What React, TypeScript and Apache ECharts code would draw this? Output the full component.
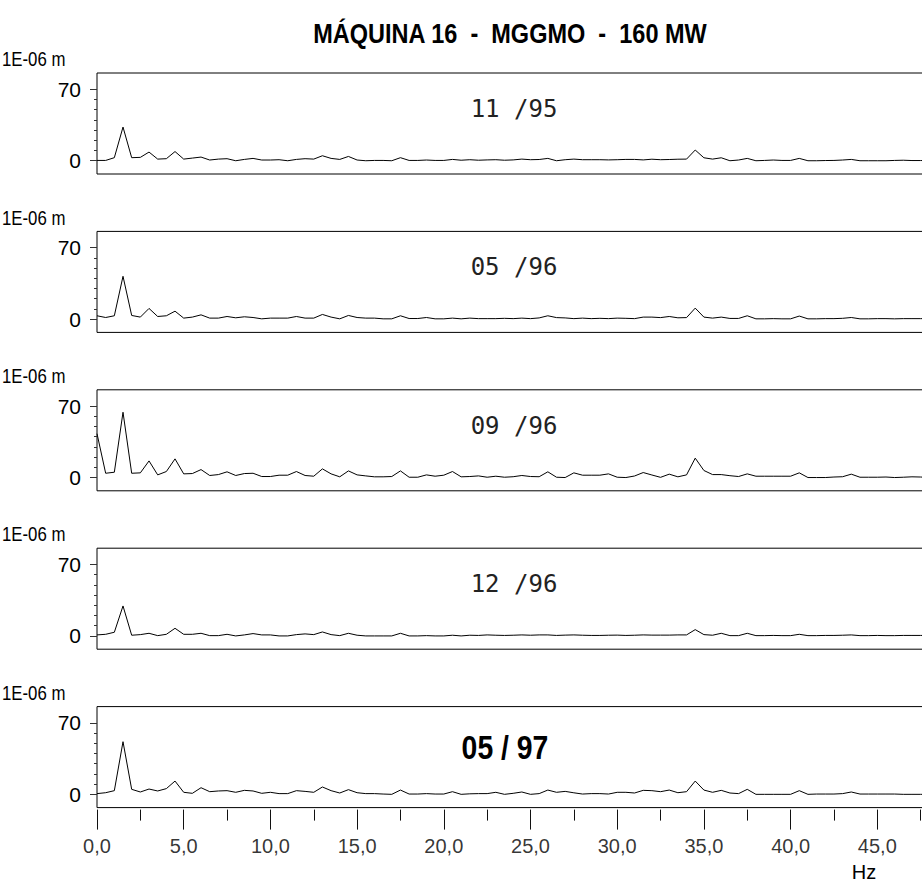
import React, { useEffect, useRef } from "react";
import * as echarts from "echarts";

// Frequencies (Hz) of the spectral lines, 0.5 Hz resolution
const freqs: number[] = [
  0, 0.5, 1, 1.5, 2, 2.5, 3, 3.5, 4, 4.5, 5, 5.5, 6, 6.5, 7, 7.5, 8, 8.5, 9, 9.5,
  10, 10.5, 11, 11.5, 12, 12.5, 13, 13.5, 14, 14.5, 15, 15.5, 16, 16.5, 17, 17.5, 18, 18.5, 19, 19.5,
  20, 20.5, 21, 21.5, 22, 22.5, 23, 23.5, 24, 24.5, 25, 25.5, 26, 26.5, 27, 27.5, 28, 28.5, 29, 29.5,
  30, 30.5, 31, 31.5, 32, 32.5, 33, 33.5, 34, 34.5, 35, 35.5, 36, 36.5, 37, 37.5, 38, 38.5, 39, 39.5,
  40, 40.5, 41, 41.5, 42, 42.5, 43, 43.5, 44, 44.5, 45, 45.5, 46, 46.5, 47, 47.5, 48, 48.5,
];

// Amplitudes (1E-06 m)
const s1195: number[] = [
  0.3, 0.3, 3, 33, 3, 3.3, 8.5, 1.6, 2, 9, 1.6, 2.6, 3.6, 0.7, 1.6, 2, 0, 1.3, 2.3, 0.7,
  0.7, 1, 0, 1.3, 2, 1.6, 4.9, 2.3, 1.3, 4.2, 0.7, 0, 0.3, 0.3, 0, 3, 0.3, 0.3, 0.7, 0.3,
  0.3, 1.3, 0.5, 1.0, 0.5, 0.8, 1.0, 0.5, 0.8, 1.6, 1.0, 1.2, 2.3, 0, 1.0, 1.6, 1.0, 1.0, 1.0, 0.8,
  1.0, 1.3, 1.3, 0.8, 1.5, 1.0, 1.2, 1.5, 1.6, 10.5, 2.9, 1.6, 2.9, 0, 0.7, 2.3, 0, 0.3, 0.7, 0.3,
  0.3, 2.3, 0, 0, 0.2, 0.3, 0.7, 1.3, 0, 0, 0, 0, 0.3, 0.5, 0.2, 0.2, 0.2, 0.2,
];
const s0596: number[] = [
  3.3, 1.6, 3.3, 42, 3.6, 2, 10.5, 2.6, 3.3, 7.8, 1, 2, 4.2, 1, 1, 2.6, 1.3, 2.3, 1.6, 0.3,
  1, 1, 1, 2.6, 1, 1, 4.6, 2, 0.3, 3.6, 1.6, 1, 1, 0.3, 0.3, 3.3, 0.6, 0.6, 1.6, 0.3,
  0.3, 1, 0.3, 1.0, 0.5, 0.5, 0.5, 0.8, 0.5, 1.0, 0.5, 1.2, 3.3, 1.5, 1.2, 0.5, 1.0, 0.5, 0.8, 0.5,
  1.0, 0.8, 0.5, 2.0, 2.0, 1.5, 2.6, 1.3, 1.5, 10.8, 2.0, 1.0, 2.0, 0.7, 0.7, 3.3, 0.3, 0.3, 0.5, 0.3,
  0.3, 3.0, 0.3, 0.3, 0.5, 0.5, 0.8, 1.6, 0.3, 0.3, 0.5, 0.5, 0.3, 0.5, 0.5, 0.5, 0.5, 0.5,
];
const s0996: number[] = [
  43, 4.2, 5.2, 64, 4.2, 4.6, 16.3, 2.6, 5.9, 18.3, 3.6, 3.9, 7.8, 2, 2.9, 5.6, 2, 3.9, 4.2, 1,
  1, 2.3, 2.3, 5.9, 2, 1.3, 8.5, 3.6, 0.7, 6.5, 2.6, 1.6, 0.7, 0.7, 1, 6.5, 0.3, 0.3, 2.6, 1.3,
  2.3, 5.9, 0.7, 1.0, 1.6, 0.3, 1.3, 0.3, 0.8, 2.0, 1.0, 0.8, 5.6, 0.3, 0, 4.6, 2.3, 2.3, 2.3, 3.6,
  0.3, 0, 1.5, 4.9, 2.5, 0.2, 3.3, 0.7, 2.6, 19, 6.9, 2.9, 2.9, 1.8, 1.0, 3.6, 1.3, 1.3, 1.3, 1.3,
  1.3, 4.6, 0, 0, 0, 0.5, 0.8, 3.3, 0.3, 0.3, 0.3, 0.5, 0, 0.3, 0.7, 0.5, 0, 0.5,
];
const s1296: number[] = [
  1, 1.6, 3.6, 29.4, 0.7, 1.3, 2.6, 0.3, 1.6, 7.5, 1.6, 1.6, 2.6, 0.3, 0.3, 1.6, 0, 1, 2.3, 1,
  1, 0, 0, 1.3, 2, 1.3, 3.9, 1.3, 0.3, 2.6, 0.7, 0, 0, 0, 0, 2.6, 0, 0, 0.3, 0,
  0, 0.7, 0, 0.7, 0.5, 1.0, 0.7, 0.5, 0.7, 1.0, 0.7, 1.0, 1.0, 0.5, 0.8, 1.0, 0.7, 0.5, 0.5, 0.7,
  0.8, 0.5, 0.7, 1.0, 0.8, 0.8, 0.8, 1.0, 1.0, 6.2, 1.3, 0.7, 2.6, 0.3, 0.3, 2.6, 0.3, 0.3, 0.5, 0.3,
  0.3, 1.6, 0.3, 0.3, 0.5, 0.5, 0.7, 1.0, 0.3, 0.3, 0.5, 0.3, 0.3, 0.5, 0.5, 0.5, 0.5, 0.5,
];
const s0597: number[] = [
  0.7, 1.6, 3.6, 51.6, 4.9, 2.3, 5.2, 3.3, 5.6, 13, 2, 1, 6.5, 2.6, 3.3, 3.6, 2, 3.9, 3.3, 1,
  2, 0.7, 0.7, 3.6, 2.9, 2, 7.2, 3.6, 1.3, 4.6, 1.6, 0.7, 0.7, 0.3, 0, 4.2, 0.3, 0.3, 0.7, 0.3,
  0.3, 2.6, 0, 0.5, 0.7, 0.7, 2.0, 0, 1.0, 2.3, 0, 0.7, 4.2, 2.0, 2.9, 1.5, 0.3, 0.7, 0.7, 0.3,
  2.0, 2.0, 1.3, 3.9, 3.6, 2.6, 4.2, 1.6, 2.6, 13, 4.2, 2.0, 3.9, 1.3, 0.7, 4.9, 0, 0, 0, 0,
  0, 3.6, 0, 0.3, 0.3, 0.3, 0.7, 2.3, 0.3, 0.3, 0.3, 0.3, 0.3, 0, 0, 0, 0, 0.7,
];

const panelSeries: number[][] = [s1195, s0596, s0996, s1296, s0597];
const panelDates: string[] = ["11 /95", "05 /96", "09 /96", "12 /96", "05 / 97"];
const title = "MÁQUINA 16  -  MGGMO  -  160 MW";
const yUnit = "1E-06 m";
const xUnit = "Hz";
const yLabelTicks: number[] = [0, 70];
const yMinorTicks: number[] = [10, 20, 30, 40, 50, 60];
// Frequency scale (Hz): labelled ticks and the short ticks between them
const xMajorTicks: number[] = [0, 5, 10, 15, 20, 25, 30, 35, 40, 45];
const xMinorTicks: number[] = [2.5, 7.5, 12.5, 17.5, 22.5, 27.5, 32.5, 37.5, 42.5, 47.5];

const CHART_W = 1000;
const GRID_LEFT = 97;
const GRID_RIGHT = 36;
const GRID_TOP0 = 73;
const GRID_STEP = 158.4;
const GRID_H = 101;
const Y_MIN = -13;
const Y_MAX = 86;

export default function App() {
  const ref = useRef<HTMLDivElement>(null);
  useEffect(() => {
    if (!ref.current) return;
    const chart = echarts.init(ref.current, null, { renderer: "svg" });
    const n = panelSeries.length;
    const grids: any[] = [];
    const xAxes: any[] = [];
    const yAxes: any[] = [];
    const series: any[] = [];
    const graphics: any[] = [];
    const fontSans = "'Liberation Sans', Arial, sans-serif";
    const unitsPerPx = (Y_MAX - Y_MIN) / GRID_H;

    for (let i = 0; i < n; i++) {
      const top = GRID_TOP0 + i * GRID_STEP;
      grids.push({
        left: GRID_LEFT,
        right: GRID_RIGHT,
        top,
        height: GRID_H,
        show: true,
        borderColor: "#000",
        borderWidth: 1,
        backgroundColor: "transparent",
      });
      xAxes.push({ type: "value", gridIndex: i, min: 0, max: 50, show: false });
      yAxes.push({
        type: "value",
        gridIndex: i,
        min: Y_MIN,
        max: Y_MAX,
        axisLine: { show: false, onZero: false },
        splitLine: { show: false },
        axisTick: { show: true, length: 7, customValues: yLabelTicks, lineStyle: { color: "#333" } },
        axisLabel: {
          show: true,
          customValues: yLabelTicks,
          margin: 16,
          fontSize: 21,
          color: "#000",
          fontFamily: fontSans,
        },
      });
      yAxes.push({
        type: "value",
        gridIndex: i,
        min: Y_MIN,
        max: Y_MAX,
        position: "left",
        axisLine: { show: false, onZero: false },
        splitLine: { show: false },
        axisTick: { show: true, length: 3, customValues: yMinorTicks, lineStyle: { color: "#333" } },
        axisLabel: { show: false },
      });
      series.push({
        type: "line",
        xAxisIndex: i,
        yAxisIndex: 2 * i,
        data: freqs.map((f, k) => [f, panelSeries[i][k]]),
        showSymbol: false,
        symbol: "none",
        lineStyle: { color: "#000", width: 1 },
        silent: true,
      });
      graphics.push({
        type: "group",
        x: 2,
        y: top - 14,
        scaleX: 0.8,
        children: [
          {
            type: "text",
            x: 0,
            y: 0,
            style: {
              text: yUnit,
              fontSize: 21,
              fontFamily: fontSans,
              fill: "#000",
              align: "left",
              verticalAlign: "middle",
            },
          },
        ],
      });
      graphics.push(
        i === n - 1
          ? {
              type: "group",
              x: 505,
              y: top + 41,
              scaleX: 0.86,
              children: [
                {
                  type: "text",
                  x: 0,
                  y: 0,
                  style: {
                    text: panelDates[i],
                    fontSize: 33,
                    fontWeight: "bold",
                    fontFamily: fontSans,
                    fill: "#000",
                    align: "center",
                    verticalAlign: "middle",
                  },
                },
              ],
            }
          : {
              type: "text",
              x: 514,
              y: top + 36,
              style: {
                text: panelDates[i],
                fontSize: 24,
                fontFamily: "'DejaVu Sans Mono', monospace",
                fill: "#222",
                align: "center",
                verticalAlign: "middle",
              },
            }
      );
    }

    // Frequency scale under the last panel, drawn in its own coordinates (below y-min, unclipped)
    const lastX = n - 1;
    const lastY = 2 * (n - 1);
    const tickStart = Y_MIN - 2 * unitsPerPx;
    const majorEnd = Y_MIN - 22 * unitsPerPx;
    const minorEnd = Y_MIN - 13 * unitsPerPx;
    series.push({
      type: "lines",
      coordinateSystem: "cartesian2d",
      xAxisIndex: lastX,
      yAxisIndex: lastY,
      silent: true,
      clip: false,
      lineStyle: { color: "#111", width: 1, opacity: 1 },
      data: [
        ...xMajorTicks.map((v) => ({ coords: [[v, tickStart], [v, majorEnd]] })),
        ...xMinorTicks.map((v) => ({ coords: [[v, tickStart], [v, minorEnd]] })),
      ],
    });
    series.push({
      type: "scatter",
      xAxisIndex: lastX,
      yAxisIndex: lastY,
      silent: true,
      clip: false,
      symbolSize: 0,
      data: xMajorTicks.map((v) => [v, majorEnd]),
      label: {
        show: true,
        position: "bottom",
        distance: 6,
        fontSize: 20,
        color: "#000",
        fontFamily: fontSans,
        formatter: (p: any) => Number(p.value[0]).toFixed(1).replace(".", ","),
      },
    });

    graphics.push({
      type: "group",
      x: 510,
      y: 33,
      scaleX: 0.84,
      children: [
        {
          type: "text",
          x: 0,
          y: 0,
          style: {
            text: title,
            fontSize: 28,
            fontWeight: "bold",
            fontFamily: fontSans,
            fill: "#000",
            align: "center",
            verticalAlign: "middle",
          },
        },
      ],
    });
    graphics.push({
      type: "text",
      x: 864,
      y: 872,
      style: {
        text: xUnit,
        fontSize: 20,
        fontFamily: fontSans,
        fill: "#000",
        align: "center",
        verticalAlign: "middle",
      },
    });

    chart.setOption({
      animation: false,
      backgroundColor: "#fff",
      grid: grids,
      xAxis: xAxes,
      yAxis: yAxes,
      series,
      graphic: graphics,
    });
    return () => chart.dispose();
  }, []);
  return (
    <div style={{ position: "fixed", left: 0, top: 0, width: 922, height: 886, overflow: "hidden", background: "#fff" }}>
      <div ref={ref} style={{ width: CHART_W, height: 886 }} />
    </div>
  );
}
